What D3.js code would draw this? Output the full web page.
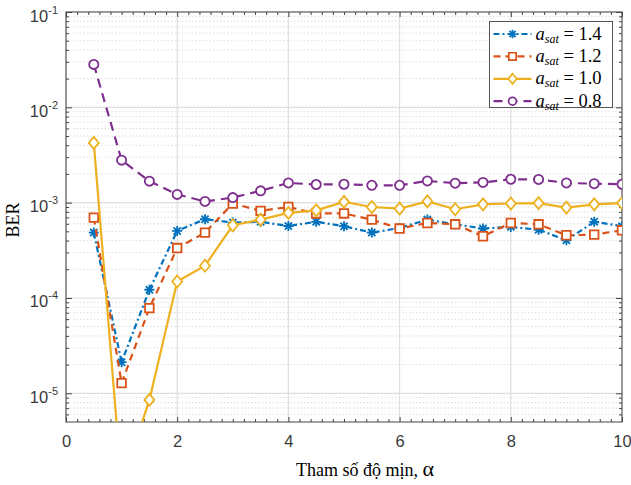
<!DOCTYPE html>
<html>
<head>
<meta charset="utf-8">
<script src="https://cdn.jsdelivr.net/npm/d3@7"></script>
<style>
  body { margin: 0; background: #fff; }
  svg { display: block; }
</style>
</head>
<body>
<svg id="chart" width="631" height="485"></svg>
<script>
// smoothing parameter (x) and BER for each a_sat
var alpha = [0.5, 1, 1.5, 2, 2.5, 3, 3.5, 4, 4.5, 5, 5.5, 6, 6.5, 7, 7.5, 8, 8.5, 9, 9.5, 10];
var ber14 = [4.85e-4, 2.12e-5, 1.22e-4, 5.05e-4, 6.7e-4, 6.18e-4, 6.3e-4, 5.69e-4, 6.3e-4, 5.66e-4,
             4.85e-4, 5.42e-4, 6.64e-4, 5.93e-4, 5.35e-4, 5.57e-4, 5.2e-4, 4.03e-4, 6.3e-4, 5.66e-4];
var ber12 = [6.97e-4, 1.28e-5, 7.83e-5, 3.34e-4, 4.85e-4, 9.8e-4, 8.2e-4, 9.0e-4, 7.7e-4, 7.7e-4,
             6.64e-4, 5.35e-4, 6.12e-4, 5.93e-4, 4.44e-4, 6.12e-4, 5.93e-4, 4.55e-4, 4.62e-4, 5.13e-4];
var ber10 = [4.23e-3, 1.1e-6, 8.53e-6, 1.49e-4, 2.18e-4, 5.79e-4, 6.64e-4, 7.8e-4, 8.3e-4, 1.02e-3,
             9.0e-4, 8.67e-4, 1.03e-3, 8.53e-4, 9.6e-4, 9.8e-4, 9.9e-4, 8.87e-4, 9.6e-4, 9.9e-4];
var ber08 = [2.82e-2, 2.79e-3, 1.68e-3, 1.22e-3, 1.03e-3, 1.13e-3, 1.33e-3, 1.61e-3, 1.55e-3, 1.56e-3,
             1.52e-3, 1.52e-3, 1.69e-3, 1.60e-3, 1.63e-3, 1.76e-3, 1.75e-3, 1.61e-3, 1.58e-3, 1.56e-3];
var satLabels = ["1.4", "1.2", "1.0", "0.8"];

var xTicks = [0, 2, 4, 6, 8, 10];
var yTicks = [1e-5, 1e-4, 1e-3, 1e-2, 1e-1];
var yExponents = ["-5", "-4", "-3", "-2", "-1"];

var margin = {top: 12, right: 9, bottom: 63, left: 66};
var width = 631 - margin.left - margin.right;
var height = 485 - margin.top - margin.bottom;

var x = d3.scaleLinear().domain([0, 10]).range([0, width]);
var y = d3.scaleLog().domain([5e-6, 1e-1]).range([height, 0]);

// minor ticks: 2..9 in every decade, 0.2 steps on x
var yMinor = [];
[1e-6, 1e-5, 1e-4, 1e-3, 1e-2].forEach(function(d) {
  for (var k = 2; k <= 9; k++) {
    var v = d * k;
    if (v >= 5e-6 && v < 1e-1) yMinor.push(v);
  }
});
var xMinor = d3.range(0, 10.01, 0.2).filter(function(v) { return Math.abs(v / 2 - Math.round(v / 2)) > 1e-6; });

var svg = d3.select("#chart");
var g = svg.append("g").attr("transform", "translate(" + margin.left + "," + margin.top + ")");

g.append("rect").attr("width", width).attr("height", height).attr("fill", "#fff");

// grid
g.append("g").selectAll("line").data(yMinor).enter().append("line")
    .attr("x1", 0).attr("x2", width)
    .attr("y1", function(d) { return y(d); }).attr("y2", function(d) { return y(d); })
    .attr("stroke", "#d4d4d4").attr("stroke-width", 0.8).attr("stroke-dasharray", "1.5,2");
g.append("g").selectAll("line").data(yTicks).enter().append("line")
    .attr("x1", 0).attr("x2", width)
    .attr("y1", function(d) { return y(d); }).attr("y2", function(d) { return y(d); })
    .attr("stroke", "#dedede").attr("stroke-width", 1.2);
g.append("g").selectAll("line").data(xTicks).enter().append("line")
    .attr("y1", 0).attr("y2", height)
    .attr("x1", function(d) { return x(d); }).attr("x2", function(d) { return x(d); })
    .attr("stroke", "#dedede").attr("stroke-width", 1.2);

// axes, ticks inside on all sides
function styleAxis(sel) {
  sel.select(".domain").remove();
  sel.selectAll(".tick line").attr("stroke", "#444");
}
g.append("g").attr("transform", "translate(0," + height + ")")
    .call(d3.axisBottom(x).tickValues(xTicks).tickSize(-5).tickPadding(13).tickFormat(d3.format("d")))
    .call(styleAxis)
    .selectAll("text").attr("font-family", "Liberation Sans, Arial, sans-serif").attr("font-size", 16.5).attr("fill", "#3a3a3a");
g.append("g").attr("transform", "translate(0," + height + ")")
    .call(d3.axisBottom(x).tickValues(xMinor).tickSize(-3).tickFormat(""))
    .call(styleAxis);
g.append("g")
    .call(d3.axisTop(x).tickValues(xTicks).tickSize(-5).tickFormat(""))
    .call(styleAxis);
g.append("g")
    .call(d3.axisTop(x).tickValues(xMinor).tickSize(-3).tickFormat(""))
    .call(styleAxis);

var yAxis = g.append("g")
    .call(d3.axisLeft(y).tickValues(yTicks).tickSize(-6).tickFormat(""))
    .call(styleAxis);
g.append("g").call(d3.axisLeft(y).tickValues(yMinor).tickSize(-3).tickFormat("")).call(styleAxis);
g.append("g").attr("transform", "translate(" + width + ",0)")
    .call(d3.axisRight(y).tickValues(yTicks).tickSize(-6).tickFormat("")).call(styleAxis);
g.append("g").attr("transform", "translate(" + width + ",0)")
    .call(d3.axisRight(y).tickValues(yMinor).tickSize(-3).tickFormat("")).call(styleAxis);

yAxis.selectAll(".tick").each(function(d, i) {
  var t = d3.select(this).append("text")
      .attr("x", -8).attr("y", 9)
      .attr("text-anchor", "end")
      .attr("font-family", "Liberation Sans, Arial, sans-serif")
      .attr("fill", "#3a3a3a");
  t.append("tspan").attr("font-size", 16.5).text("10");
  t.append("tspan").attr("font-size", 11).attr("dy", -8).text(yExponents[i]);
});

g.append("rect").attr("width", width).attr("height", height)
    .attr("fill", "none").attr("stroke", "#444").attr("stroke-width", 1);

// series
g.append("clipPath").attr("id", "plotclip").append("rect").attr("width", width).attr("height", height);

var series = [
  {values: ber14, color: "#0072BD", dash: "6,3,2,3", marker: "star"},
  {values: ber12, color: "#D95319", dash: "7,5", marker: "square"},
  {values: ber10, color: "#EDB120", dash: null, marker: "diamond"},
  {values: ber08, color: "#7E2F8E", dash: "9,6", marker: "circle"}
];

var line = d3.line()
    .x(function(d) { return x(d[0]); })
    .y(function(d) { return y(d[1]); });

function markerPath(type) {
  if (type === "star") return "M-5,0L5,0M0,-5L0,5M-3.6,-3.6L3.6,3.6M-3.6,3.6L3.6,-3.6";
  if (type === "square") return "M-4.3,-4.3L4.3,-4.3L4.3,4.3L-4.3,4.3Z";
  if (type === "diamond") return "M0,-6L5,0L0,6L-5,0Z";
  return "M-4.6,0A4.6,4.6 0 1,0 4.6,0A4.6,4.6 0 1,0 -4.6,0Z";
}

var plot = g.append("g").attr("clip-path", "url(#plotclip)");

series.forEach(function(s) {
  var pts = alpha.map(function(a, i) { return [a, s.values[i]]; });
  var sg = plot.append("g");
  sg.append("path").datum(pts)
      .attr("d", line)
      .attr("fill", "none")
      .attr("stroke", s.color)
      .attr("stroke-width", 2.2)
      .attr("stroke-dasharray", s.dash);
  sg.selectAll(".mk").data(pts).enter().append("path")
      .attr("transform", function(d) { return "translate(" + x(d[0]) + "," + y(d[1]) + ")"; })
      .attr("d", markerPath(s.marker))
      .attr("fill", "#fff")
      .attr("fill-opacity", s.marker === "star" ? 0 : 1)
      .attr("stroke", s.color)
      .attr("stroke-width", 1.8);
});

// legend
var lg = svg.append("g").attr("transform", "translate(489.5,21.5)");
lg.append("rect").attr("width", 123).attr("height", 86)
    .attr("fill", "#fff").attr("stroke", "#555").attr("stroke-width", 1);
series.forEach(function(s, i) {
  var yy = 12.5 + i * 22.4;
  lg.append("line").attr("x1", 4).attr("x2", 42).attr("y1", yy).attr("y2", yy)
      .attr("stroke", s.color).attr("stroke-width", 2.2).attr("stroke-dasharray", s.dash);
  lg.append("path").attr("transform", "translate(23," + yy + ") scale(0.85)")
      .attr("d", markerPath(s.marker))
      .attr("fill", "#fff").attr("fill-opacity", s.marker === "star" ? 0 : 1)
      .attr("stroke", s.color).attr("stroke-width", 2);
  var t = lg.append("text").attr("x", 46).attr("y", yy + 5.5)
      .attr("font-family", "Liberation Serif, Times New Roman, serif").attr("fill", "#000");
  t.append("tspan").attr("font-size", 18.5).attr("font-style", "italic").text("a");
  t.append("tspan").attr("font-size", 12).attr("font-style", "italic").attr("dy", 3).text("sat");
  t.append("tspan").attr("font-size", 18.5).attr("dy", -3).text(" = " + satLabels[i]);
});

// axis titles
svg.append("text")
    .attr("transform", "translate(19,220) rotate(-90)")
    .attr("text-anchor", "middle")
    .attr("font-family", "Liberation Serif, Times New Roman, serif")
    .attr("font-size", 18).attr("fill", "#000")
    .text("BER");

var xl = svg.append("text")
    .attr("x", 365).attr("y", 476)
    .attr("text-anchor", "middle")
    .attr("font-family", "Liberation Serif, Times New Roman, serif")
    .attr("fill", "#000");
xl.append("tspan").attr("font-size", 18).text("Tham số độ mịn, ");
xl.append("tspan").attr("font-size", 22).text("α");
</script>
</body>
</html>
